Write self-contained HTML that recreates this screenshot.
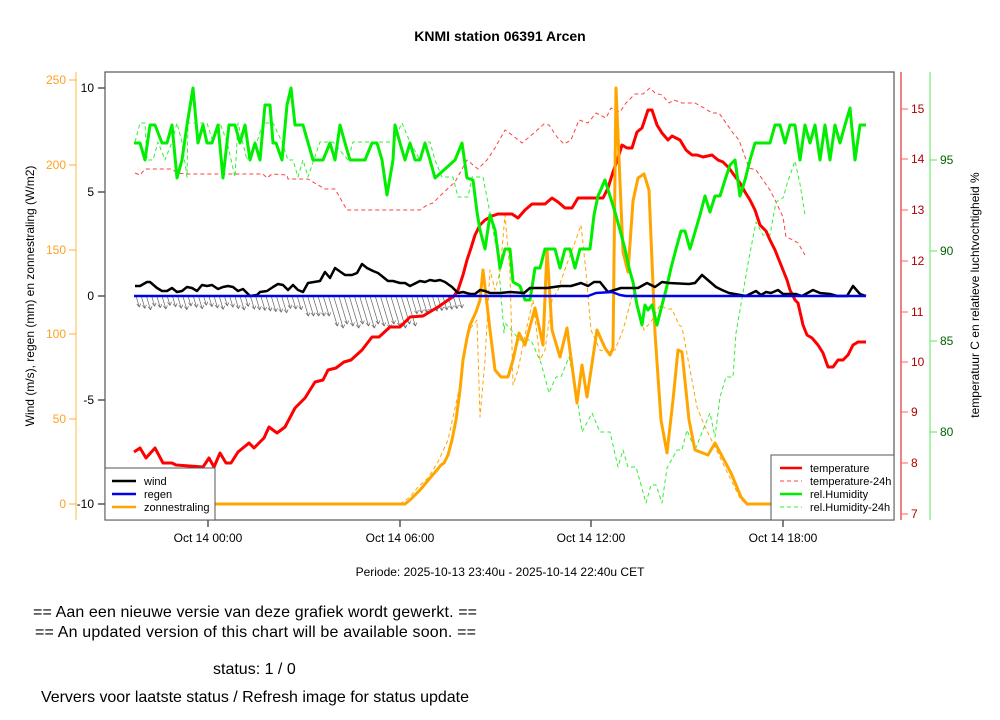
<!DOCTYPE html>
<html><head><meta charset="utf-8"><style>
body{margin:0;background:#fff;width:1000px;height:720px;overflow:hidden}
svg{display:block;font-family:"Liberation Sans",sans-serif}
</style></head><body>
<svg id="s" width="1000" height="720" xmlns="http://www.w3.org/2000/svg">
<text x="500" y="41" text-anchor="middle" font-size="14" font-weight="bold">KNMI station 06391 Arcen</text>
<line x1="76" y1="72" x2="76" y2="520" stroke="#ffd27f" stroke-width="1.5"/>
<g stroke="#ffb040" fill="#ffa020" font-size="12" text-anchor="end">
<line x1="69" y1="80" x2="76" y2="80"/><text x="66" y="84" stroke="none">250</text>
<line x1="69" y1="165" x2="76" y2="165"/><text x="66" y="169" stroke="none">200</text>
<line x1="69" y1="250" x2="76" y2="250"/><text x="66" y="254" stroke="none">150</text>
<line x1="69" y1="334" x2="76" y2="334"/><text x="66" y="338" stroke="none">100</text>
<line x1="69" y1="419" x2="76" y2="419"/><text x="66" y="423" stroke="none">50</text>
<line x1="69" y1="504" x2="76" y2="504"/><text x="66" y="508" stroke="none">0</text>
</g>
<g stroke="#000" fill="#000" font-size="12" text-anchor="end">
<line x1="98" y1="88" x2="105" y2="88"/><text x="94" y="92" stroke="none">10</text>
<line x1="98" y1="192" x2="105" y2="192"/><text x="94" y="196" stroke="none">5</text>
<line x1="98" y1="296" x2="105" y2="296"/><text x="94" y="300" stroke="none">0</text>
<line x1="98" y1="400" x2="105" y2="400"/><text x="94" y="404" stroke="none">-5</text>
<line x1="98" y1="504" x2="105" y2="504"/><text x="94" y="508" stroke="none">-10</text>
</g>
<text transform="translate(34,296) rotate(-90)" text-anchor="middle" font-size="12">Wind (m/s), regen (mm) en zonnestraling (W/m2)</text>
<line x1="901" y1="72" x2="901" y2="520" stroke="#e03030" stroke-width="1.2"/>
<g stroke="#ff6060" fill="#b00000" font-size="12">
<line x1="901" y1="109" x2="908" y2="109"/><text x="911" y="113" stroke="none">15</text>
<line x1="901" y1="159" x2="908" y2="159"/><text x="911" y="163" stroke="none">14</text>
<line x1="901" y1="210" x2="908" y2="210"/><text x="911" y="214" stroke="none">13</text>
<line x1="901" y1="261" x2="908" y2="261"/><text x="911" y="265" stroke="none">12</text>
<line x1="901" y1="312" x2="908" y2="312"/><text x="911" y="316" stroke="none">11</text>
<line x1="901" y1="362" x2="908" y2="362"/><text x="911" y="366" stroke="none">10</text>
<line x1="901" y1="412" x2="908" y2="412"/><text x="911" y="416" stroke="none">9</text>
<line x1="901" y1="463" x2="908" y2="463"/><text x="911" y="467" stroke="none">8</text>
<line x1="901" y1="514" x2="908" y2="514"/><text x="911" y="518" stroke="none">7</text>
</g>
<line x1="930" y1="72" x2="930" y2="520" stroke="#90f090" stroke-width="1.5"/>
<g stroke="#60e060" fill="#006400" font-size="12">
<line x1="930" y1="160" x2="937" y2="160"/><text x="940" y="164" stroke="none">95</text>
<line x1="930" y1="251" x2="937" y2="251"/><text x="940" y="255" stroke="none">90</text>
<line x1="930" y1="341" x2="937" y2="341"/><text x="940" y="345" stroke="none">85</text>
<line x1="930" y1="432" x2="937" y2="432"/><text x="940" y="436" stroke="none">80</text>
</g>
<text transform="translate(979,295) rotate(-90)" text-anchor="middle" font-size="12">temperatuur C en relatieve luchtvochtigheid %</text>
<g stroke="#000" font-size="12" text-anchor="middle">
<line x1="208" y1="520" x2="208" y2="527"/><text x="208" y="542" stroke="none">Oct 14 00:00</text>
<line x1="400" y1="520" x2="400" y2="527"/><text x="400" y="542" stroke="none">Oct 14 06:00</text>
<line x1="591" y1="520" x2="591" y2="527"/><text x="591" y="542" stroke="none">Oct 14 12:00</text>
<line x1="783" y1="520" x2="783" y2="527"/><text x="783" y="542" stroke="none">Oct 14 18:00</text>
</g>
<text x="500" y="576" text-anchor="middle" font-size="12">Periode: 2025-10-13 23:40u - 2025-10-14 22:40u CET</text>
<g id="plot" fill="none" stroke-linejoin="round">
<g id="arrows" stroke="#666" stroke-width="0.7"></g>
<polyline stroke="#ffa500" stroke-width="1" stroke-dasharray="4,3" points="134,504 400,504 410,497 418,487 428,478 438,462 448,440 459,390 464,355 469,330 477,320 480,417 485,360 490,270 495,290 500,272 505,215 510,272 513,385 518,370 525,335 533,300 540,360 545,350 552,300 558,290 564,272 574,245 581,225 586,272 591,330 600,350 608,352 615,350 623,330 633,293 644,330 652,320 660,305 667,309 672,309 679,325 682,327 690,370 697,407 705,427 715,447 731,480 741,500 747,504 866,504"/>
<polyline stroke="#ff4040" stroke-width="1" stroke-dasharray="4,3" points="135,173 140,175 145,169 172,169 177,173 187,174 263,174 267,178 272,174 287,175 288,179 308,179 318,185 325,189 335,189 347,210 420,210 427,205 433,203 443,193 455,182 467,160 478,169 487,160 495,148 505,130 512,135 522,143 534,133 544,124 549,125 557,137 564,144 571,140 579,120 588,123 596,113 606,118 611,108 620,112 626,103 635,94 643,94 650,88 655,93 662,95 669,103 674,100 682,103 695,103 704,108 712,113 719,113 726,123 733,133 739,140 749,168 756,170 763,180 770,190 776,202 783,217 786,237 793,240 798,243 805,255"/>
<polyline stroke="#30f030" stroke-width="1" stroke-dasharray="4,3" points="135,142 140,123 145,123 147,160 153,160 158,142 165,160 172,142 177,123 182,142 187,177 188,123 207,123 213,142 220,123 227,142 235,177 238,123 247,160 257,142 263,123 273,123 282,142 288,160 293,160 298,177 303,160 308,177 320,142 333,142 348,160 353,142 393,142 402,123 410,142 420,160 425,142 430,142 435,160 442,177 453,177 458,197 468,197 472,177 483,177 490,213 498,257 504,333 505,323 520,340 531,340 541,363 549,393 556,377 561,377 569,357 577,397 582,432 592,413 600,432 610,432 618,467 623,450 628,467 636,467 646,503 651,485 656,485 662,503 667,468 677,450 682,450 687,430 695,450 703,430 710,413 715,437 720,397 726,377 733,377 736,333 749,258 756,222 763,235 770,235 776,202 783,198 788,181 795,161 800,184 805,215"/>
<polyline stroke="#ff0000" stroke-width="3" points="134,452 140,448 146,458 155,448 163,463 172,463 176,465 203,467 209,458 214,467 220,453 226,463 231,463 238,452 249,443 254,448 264,438 269,427 277,433 285,427 295,408 305,398 315,382 323,380 328,370 336,368 344,362 351,360 362,350 372,337 379,337 390,327 400,327 410,317 423,316 438,307 454,296 458,290 463,275 467,260 471,248 475,235 480,225 485,220 492,216 498,214 505,214 512,214 518,218 525,210 532,204 545,204 552,198 558,202 565,208 572,208 578,198 603,198 608,188 613,172 618,158 622,145 627,148 632,148 637,132 642,128 648,110 652,110 657,125 662,133 668,140 672,136 680,140 686,150 692,155 697,155 703,157 712,155 718,160 723,162 729,168 734,175 740,183 745,192 750,200 755,210 760,225 766,231 770,240 775,250 779,260 783,270 787,280 790,290 795,300 798,303 803,325 807,335 812,338 818,345 823,353 828,367 833,367 838,360 843,360 848,355 853,345 858,342 866,342"/>
<polyline stroke="#ffa500" stroke-width="3" points="134,504 405,504 410,500 420,490 430,478 437,470 441,465 444,463 448,455 452,440 456,420 460,390 463,360 467,338 470,325 476,312 480,300 483,270 490,330 495,370 501,377 508,377 513,360 519,333 525,345 535,308 543,345 547,250 552,330 560,357 567,328 577,403 582,365 587,397 597,330 605,348 610,355 613,348 616,88 623,252 628,272 633,201 638,178 644,174 649,190 655,333 661,420 667,453 673,400 678,350 682,352 689,420 695,450 708,455 715,443 731,473 741,497 747,504 866,504"/>
<polyline stroke="#00ee00" stroke-width="3" points="134,143 140,143 145,160 150,125 155,125 162,143 167,143 172,125 177,178 182,160 187,125 193,88 198,143 203,125 207,143 212,143 218,125 223,178 229,125 235,125 240,143 245,125 250,160 255,143 260,160 265,105 270,105 273,143 276,143 282,160 287,105 291,88 295,125 303,125 313,160 323,160 330,143 335,160 340,125 345,143 350,160 365,160 372,143 377,143 382,160 387,195 393,160 395,125 400,143 405,160 410,143 415,160 420,160 425,143 430,160 435,178 455,160 462,143 467,178 473,180 477,212 480,230 485,249 490,215 495,230 500,268 505,249 510,249 513,282 520,286 525,300 530,300 535,268 540,268 545,249 555,249 560,268 565,249 570,249 575,268 580,249 590,249 594,215 598,196 605,180 610,196 615,212 620,230 625,249 629,268 633,282 637,305 642,325 645,305 648,310 652,305 657,325 662,305 666,290 671,268 676,249 681,231 685,231 690,249 695,232 700,215 705,196 710,212 715,196 720,196 725,180 730,165 735,160 740,196 745,180 750,160 755,143 770,143 775,125 780,125 785,143 790,125 795,125 800,160 805,125 810,143 815,125 820,160 825,125 830,160 835,125 840,143 845,125 850,108 855,160 860,125 866,125"/>
<polyline stroke="#000" stroke-width="2.5" points="135,286 140,286 147,282 150,282 157,288 162,291 167,291 172,288 177,292 182,291 187,287 192,288 197,291 202,285 207,286 212,285 218,289 223,287 228,286 233,287 238,291 243,289 250,296 257,295 260,292 267,291 273,287 278,284 283,285 288,290 293,285 298,290 303,292 308,283 320,281 325,272 330,278 335,268 345,275 352,275 357,273 362,264 367,268 373,271 378,273 388,281 393,281 400,283 405,283 410,286 420,281 425,282 430,280 435,281 440,280 445,282 452,287 458,293 463,292 470,294 475,294 480,290 485,291 490,293 500,293 510,292 524,293 530,288 547,288 561,286 571,286 581,283 588,286 594,282 600,282 608,292 621,288 638,288 647,283 655,287 662,282 669,283 689,284 695,283 702,275 716,287 722,290 729,293 746,296 756,291 761,295 766,292 771,293 778,290 783,294 796,294 802,296 813,290 820,293 830,294 837,296 847,296 853,286 860,294 866,296"/>
<polyline stroke="#0000ee" stroke-width="2.5" points="134,296 588,296 596,293 612,292 620,295 626,296 866,296"/>
</g>
<rect x="105" y="72" width="789" height="448" fill="none" stroke="#555" stroke-width="1.2"/>
<rect x="105" y="468" width="110" height="52" fill="#fff" stroke="#555"/>
<g stroke-width="2.5" font-size="11">
<line x1="112" y1="481" x2="136" y2="481" stroke="#000"/><text x="144" y="485">wind</text>
<line x1="112" y1="494" x2="136" y2="494" stroke="#0000ee"/><text x="144" y="498">regen</text>
<line x1="112" y1="507" x2="136" y2="507" stroke="#ffa500"/><text x="144" y="511">zonnestraling</text>
</g>
<rect x="771" y="455" width="123" height="65" fill="#fff" stroke="#555"/>
<g font-size="11">
<line x1="780" y1="468" x2="802" y2="468" stroke="#f00" stroke-width="2.5"/><text x="810" y="472">temperature</text>
<line x1="780" y1="481" x2="802" y2="481" stroke="#ff4040" stroke-dasharray="4,3"/><text x="810" y="485">temperature-24h</text>
<line x1="780" y1="494" x2="802" y2="494" stroke="#00ee00" stroke-width="2.5"/><text x="810" y="498">rel.Humidity</text>
<line x1="780" y1="507" x2="802" y2="507" stroke="#30f030" stroke-dasharray="4,3"/><text x="810" y="511">rel.Humidity-24h</text>
</g>
<g font-size="16">
<text x="33" y="617" textLength="444">== Aan een nieuwe versie van deze grafiek wordt gewerkt. ==</text>
<text x="35" y="637" textLength="441">== An updated version of this chart will be available soon. ==</text>
<text x="213" y="674">status: 1 / 0</text>
<text x="41" y="702" textLength="428">Ververs voor laatste status / Refresh image for status update</text>
</g>
</svg>
<script>
var g=document.getElementById('arrows'),h='';
for(var x=136;x<462;x+=5.2){
 var L;
 if(x<250)L=9+((x*7)%5);else if(x<300)L=12+((x*3)%5);else if(x<325)L=20;else if(x<410)L=26+((x*5)%6);else L=18-((x-410)/8);
 var dx=L*0.3;
 var x2=x+dx,y2=296+L;
 h+='<line x1="'+x+'" y1="296" x2="'+x2+'" y2="'+y2+'"/><polyline fill="none" points="'+(x2-2.5)+','+(y2-3)+' '+x2+','+y2+' '+(x2+1.5)+','+(y2-3.5)+'"/>';
}
g.innerHTML=h;
</script>
</body></html>
